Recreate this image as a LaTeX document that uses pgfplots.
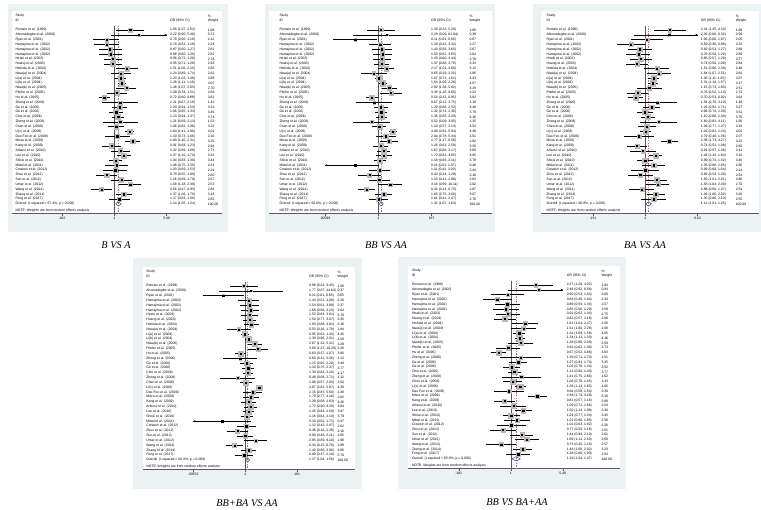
\documentclass[border=0pt]{standalone}
\usepackage{fontspec}
\setmainfont{Liberation Sans}
\newfontfamily\ttl{Liberation Serif}
\usepackage{pgfplots}
\pgfplotsset{compat=1.18}
\usepackage{pgfplotstable}
\usetikzlibrary{arrows.meta}

\definecolor{bgc}{RGB}{234,242,243}
\definecolor{boxc}{RGB}{185,185,185}
\definecolor{diac}{RGB}{40,70,150}
\definecolor{olc}{RGB}{200,110,110}
\definecolor{axc}{RGB}{90,90,90}
\newcommand\sfnt{\fontsize{3.4}{4}\selectfont}
\newcommand\tfnt{\ttl\itshape\fontsize{10.3}{12}\selectfont}
\pgfkeys{/pgf/number format/.cd, fixed, zerofill, precision=2, assume math mode=true}

\pgfplotstableread[col sep=semicolon, row sep=\\]{
k;name\\
1;Romain et al. (1999)\\
2;Ahomadegbe et al. (2000)\\
3;Ryan et al. (2001)\\
4;Hamajima et al. (2002)\\
5;Hamajima et al. (2002)\\
6;Hamajima et al. (2002)\\
7;Hiraki et al. (2003)\\
8;Huang et al. (2003)\\
9;Hishida et al. (2004)\\
10;Niwa(a) et al. (2004)\\
11;Li(a) et al. (2004)\\
12;Li(b) et al. (2004)\\
13;Niwa(b) et al. (2005)\\
14;Pfeifer et al. (2005)\\
15;Hu et al. (2005)\\
16;Zheng et al. (2006)\\
17;Ge et al. (2006)\\
18;Ge et al. (2006)\\
19;Choi et al. (2006)\\
20;Zheng et al. (2008)\\
21;Chen et al. (2008)\\
22;Li(c) et al. (2008)\\
23;Dao Feo et al. (2009)\\
24;Misra et al. (2009)\\
25;Kang et al. (2009)\\
26;Arfaoui et al. (2010)\\
27;Lee et al. (2010)\\
28;Shirai et al. (2010)\\
29;Mittal et al. (2011)\\
30;Crewein et al. (2012)\\
31;Zhou et al. (2012)\\
32;Sun et al. (2012)\\
33;Umar et al. (2012)\\
34;Wang et al. (2014)\\
35;Zhang et al. (2014)\\
36;Feng et al. (2017)\\
}\names

% B vs A
\pgfplotstableread[row sep=\\]{
est lcl ucl wt\\
1.68 1.07 2.62 1.98\\
2.22 0.90 5.48 0.72\\
0.78 0.50 1.18 2.11\\
0.78 0.52 1.18 2.24\\
0.87 0.60 1.27 2.61\\
0.88 0.60 1.30 2.62\\
0.96 0.72 1.28 2.78\\
0.95 0.71 1.28 2.93\\
1.51 1.06 2.15 2.66\\
1.24 0.89 1.74 2.62\\
1.23 1.03 1.48 3.98\\
1.28 1.11 1.48 4.07\\
1.48 1.07 2.05 2.70\\
1.09 0.78 1.51 2.68\\
0.72 0.60 0.88 3.61\\
1.21 0.67 2.18 1.42\\
1.20 0.94 1.52 3.33\\
1.06 0.85 1.33 3.46\\
1.13 0.94 1.37 3.74\\
1.21 0.69 2.13 1.52\\
1.06 0.82 1.36 3.22\\
1.64 1.41 1.90 4.01\\
1.10 0.73 1.66 2.16\\
1.80 1.40 2.31 3.25\\
0.91 0.68 1.23 2.94\\
1.22 0.89 1.68 2.73\\
1.37 1.10 1.70 3.32\\
1.04 0.83 1.30 3.44\\
1.08 0.75 1.55 2.41\\
1.03 0.69 1.53 2.24\\
0.78 0.55 1.09 2.60\\
1.26 0.89 1.79 2.67\\
1.68 1.18 2.39 2.53\\
0.66 0.47 0.93 2.84\\
1.37 1.06 1.78 3.18\\
1.17 0.83 1.66 2.65\\
}\tA

% BB vs AA
\pgfplotstableread[row sep=\\]{
est lcl ucl wt\\
1.30 0.33 5.20 1.66\\
2.29 0.09 61.04 0.38\\
0.11 0.013 0.90 0.67\\
1.19 0.42 3.42 2.27\\
1.43 0.56 3.65 2.67\\
1.50 0.61 3.65 2.64\\
1.43 0.60 3.44 2.78\\
1.37 0.68 2.76 3.33\\
2.17 1.01 4.66 3.12\\
0.65 0.19 2.25 1.86\\
1.07 0.71 1.61 4.43\\
1.54 1.05 2.26 4.57\\
2.82 1.36 5.82 3.29\\
3.38 1.18 9.65 2.23\\
0.54 0.31 0.95 3.93\\
0.67 0.12 3.75 1.18\\
1.29 0.66 2.52 3.48\\
1.32 0.74 2.36 3.79\\
1.35 0.83 2.20 4.16\\
0.52 0.09 3.05 1.15\\
1.10 0.57 2.13 3.54\\
4.08 2.81 5.94 4.38\\
2.04 0.78 5.34 2.51\\
2.77 1.17 6.56 2.82\\
1.26 0.61 2.58 3.26\\
1.67 0.88 3.17 3.68\\
1.72 0.81 3.65 3.05\\
1.18 0.66 2.11 3.78\\
0.11 0.0059 1.07 0.48\\
1.11 0.41 3.00 2.44\\
0.43 0.14 1.28 2.18\\
1.10 0.41 2.98 2.62\\
3.16 0.99 10.11 2.02\\
0.32 0.14 0.75 2.87\\
1.65 0.75 3.66 3.07\\
1.01 0.41 2.47 2.76\\
}\tB

% BA vs AA
\pgfplotstableread[row sep=\\]{
est lcl ucl wt\\
2.41 1.35 4.33 1.89\\
2.36 0.66 8.32 0.90\\
1.06 0.60 1.87 2.05\\
0.59 0.36 0.98 2.22\\
0.82 0.53 1.27 2.89\\
0.78 0.50 1.20 2.89\\
0.85 0.57 1.28 2.77\\
0.74 0.50 1.09 2.84\\
1.51 0.96 2.38 2.48\\
1.64 1.07 2.51 2.64\\
1.36 1.11 1.65 4.07\\
1.31 1.10 1.57 4.17\\
1.15 0.73 1.80 2.51\\
0.76 0.52 1.10 2.72\\
0.70 0.53 0.92 3.64\\
1.54 0.76 3.10 1.49\\
1.26 0.92 1.71 3.27\\
0.98 0.74 1.30 3.51\\
1.10 0.86 1.40 3.75\\
1.60 0.82 3.11 1.60\\
1.06 0.77 1.47 3.24\\
1.01 0.82 1.24 4.02\\
0.79 0.46 1.36 2.07\\
2.38 1.73 3.27 3.22\\
0.74 0.51 1.08 2.60\\
0.91 0.57 1.46 2.41\\
1.46 1.15 1.84 3.32\\
0.99 0.74 1.32 3.40\\
1.35 0.88 2.05 2.66\\
0.99 0.60 1.64 2.24\\
0.83 0.53 1.30 2.54\\
1.50 1.01 2.21 2.86\\
1.58 1.04 2.39 2.70\\
0.88 0.56 1.37 2.54\\
1.46 1.06 2.02 3.26\\
1.35 0.86 2.10 2.55\\
}\tC

% BB+BA vs AA
\pgfplotstableread[row sep=\\]{
est lcl ucl wt\\
0.88 0.22 3.45 1.58\\
1.77 0.07 44.64 0.37\\
0.11 0.014 0.85 0.65\\
1.44 0.51 4.08 2.26\\
1.54 0.61 3.88 2.37\\
1.68 0.68 4.15 2.64\\
1.52 0.64 3.61 2.79\\
1.54 0.77 3.07 3.35\\
1.83 0.88 3.82 3.18\\
0.53 0.16 1.78 1.84\\
0.95 0.63 1.43 4.45\\
1.39 0.96 2.01 4.58\\
2.67 1.32 5.41 3.29\\
3.60 1.27 10.20 2.20\\
0.63 0.37 1.07 3.86\\
0.60 0.11 3.36 1.12\\
1.15 0.60 2.20 3.48\\
1.33 0.75 2.37 3.77\\
1.30 0.81 2.10 4.17\\
0.48 0.08 2.71 1.12\\
1.08 0.57 2.04 3.54\\
4.07 2.82 5.87 4.39\\
2.15 0.83 5.60 2.48\\
1.79 0.77 4.16 2.82\\
1.39 0.68 2.83 3.26\\
1.72 0.90 3.30 3.64\\
1.45 0.84 2.50 3.97\\
1.16 0.64 2.10 3.79\\
0.10 0.0055 1.71 0.47\\
1.12 0.42 2.97 2.62\\
0.46 0.16 1.36 2.16\\
0.99 0.46 2.11 2.65\\
2.85 0.89 9.10 1.98\\
0.34 0.15 0.78 2.88\\
1.42 0.66 3.06 3.06\\
0.90 0.37 2.18 2.70\\
}\tD

% BB vs BA+AA
\pgfplotstableread[row sep=\\]{
est lcl ucl wt\\
2.27 1.29 4.02 1.84\\
2.48 0.92 6.58 0.84\\
0.90 0.53 1.53 2.00\\
0.64 0.40 1.04 2.34\\
0.89 0.59 1.34 2.57\\
0.85 0.56 1.29 2.59\\
0.91 0.62 1.34 2.75\\
0.82 0.57 1.18 2.88\\
1.61 1.04 2.47 2.50\\
1.51 1.00 2.28 2.58\\
1.31 1.09 1.58 4.05\\
1.34 1.13 1.59 4.16\\
1.38 0.90 2.09 2.59\\
0.92 0.62 1.36 2.73\\
0.67 0.52 0.86 3.63\\
1.39 0.71 2.70 1.51\\
1.27 0.94 1.70 3.35\\
1.02 0.78 1.34 3.52\\
1.12 0.90 1.40 3.77\\
1.41 0.75 2.66 1.62\\
1.06 0.78 1.45 3.33\\
1.36 1.13 1.65 4.05\\
0.94 0.58 1.54 2.30\\
2.38 1.73 3.28 3.18\\
0.81 0.57 1.16 2.89\\
1.09 0.71 1.66 2.50\\
1.50 1.14 1.98 3.30\\
1.01 0.77 1.34 3.45\\
1.22 0.80 1.85 2.58\\
1.01 0.63 1.62 2.26\\
0.77 0.50 1.18 2.51\\
1.44 0.99 2.10 2.61\\
1.69 1.14 2.50 2.69\\
0.73 0.45 1.18 2.57\\
1.48 1.08 2.02 3.23\\
1.28 0.86 1.90 2.54\\
}\tE

\tikzset{txt/.style={anchor=west, font=\sfnt, inner sep=0pt, text=black}}

% #1 table, #2 OR shift, #3 weight shift, #4 clip lo, #5 clip hi,
% #6 overall OR, #7 overall lo, #8 overall hi, #9 I-squared
\newcommand\fbody[9]{%
  \addplot[scatter, only marks, mark=square*, color=boxc,
    mark options={draw=boxc, fill=boxc},
    scatter/use mapped color={draw=boxc, fill=boxc},
    visualization depends on={1.3*sqrt(\thisrow{wt})\as\sw},
    scatter/@pre marker code/.append style={/tikz/mark size=\sw}]
    table[x=est, y expr=\coordindex+1] {#1};
  \addplot[axc, line width=0.6pt] coordinates {(1,0.1) (1,38.95)};
  \addplot[olc, line width=0.4pt, dash pattern=on 1.3pt off 1.3pt]
    coordinates {(#6,0.1) (#6,38.95)};
  \addplot[only marks, mark=square*, mark size=0.65pt, black,
    error bars/.cd, x dir=both, x explicit, error mark=none,
    error bar style={black, line width=0.35pt, solid}]
    table[x=est, y expr=\coordindex+1,
      x error plus expr={min(\thisrow{ucl},#5)-\thisrow{est}},
      x error minus expr={\thisrow{est}-max(\thisrow{lcl},#4)}] {#1};
  \addplot[diac, line width=0.5pt]
    coordinates {(#7,37) (#6,36.55) (#8,37) (#6,37.45) (#7,37)};
  \addplot[only marks, mark=*, mark size=0pt, mark options={draw=none,fill=none},
    point meta=explicit symbolic, nodes near coords,
    nodes near coords style={txt, xshift=-99pt}]
    table[x expr=1, y=k, meta=name] {\names};
  \addplot[only marks, mark=*, mark size=0pt, mark options={draw=none,fill=none},
    visualization depends on={\thisrow{est}\as\vor},
    visualization depends on={\thisrow{lcl}\as\vlo},
    visualization depends on={\thisrow{ucl}\as\vhi},
    nodes near coords={\pgfmathprintnumber{\vor} (\pgfmathprintnumber{\vlo}, \pgfmathprintnumber{\vhi})},
    nodes near coords style={txt, xshift=#2pt}]
    table[x expr=1, y expr=\coordindex+1] {#1};
  \addplot[only marks, mark=*, mark size=0pt, mark options={draw=none,fill=none},
    point meta=explicit, nodes near coords,
    nodes near coords style={txt, xshift=#3pt}]
    table[x expr=1, y expr=\coordindex+1, meta=wt] {#1};
  \node[txt, xshift=-99pt] at (axis cs:1,-1.9) {Study};
  \node[txt, xshift=-99pt] at (axis cs:1,-0.92) {ID};
  \node[txt, xshift=#2pt] at (axis cs:1,-0.92) {OR (95\% CI)};
  \node[txt, xshift=#3pt] at (axis cs:1,-1.9) {\%};
  \node[txt, xshift=#3pt] at (axis cs:1,-0.92) {Weight};
  \node[txt, xshift=-99pt] at (axis cs:1,37) {Overall \ (I-squared = #9\%, p = 0.000)};
  \node[txt, xshift=#2pt] at (axis cs:1,37) {#6 (#7, #8)};
  \node[txt, xshift=#3pt] at (axis cs:1,37) {100.00};
  \node[txt, xshift=-99pt] at (axis cs:1,38.45) {NOTE: Weights are from random effects analysis};
}

\begin{document}
\begin{tikzpicture}
\path[use as bounding box] (0,0) rectangle (761pt,-510pt);
\fill[bgc] (8pt,-4pt) rectangle (228pt,-232pt);
\fill[bgc] (265pt,-4pt) rectangle (495pt,-232pt);
\fill[bgc] (533pt,-4pt) rectangle (761pt,-232pt);
\fill[bgc] (133pt,-258pt) rectangle (362pt,-489pt);
\fill[bgc] (398pt,-257pt) rectangle (626pt,-489pt);

% B VS A
\begin{axis}[scale only axis, xmode=log, y dir=reverse,
    ymin=-2.93, ymax=38.95, anchor=north west,
    axis x line*=bottom, axis y line=none,
    axis line style={line width=0.5pt, axc},
    tick align=outside, major tick length=2.6pt, xminorticks=false,
    xtick style={axc, line width=0.4pt},
    xticklabel style={font=\sfnt, inner sep=1.2pt, text=black},
    clip=false, axis background/.style={fill=white},
  at={(12pt,-11pt)}, width=210pt, height=202.3pt,
  xmin=0.03606, xmax=33.04, xtick={0.182,1,5.48}, xticklabels={.182,1,5.48}]
  \fbody{\tA}{55.7}{93.4}{0.182}{5.48}{1.14}{1.05}{1.24}{67.3}
  \addplot[black, line width=0.35pt, -{Stealth[length=2.2pt,width=2pt]}] coordinates {(2.22,2) (5.48,2)};
\end{axis}

% BB VS AA
\begin{axis}[scale only axis, xmode=log, y dir=reverse,
    ymin=-2.93, ymax=38.95, anchor=north west,
    axis x line*=bottom, axis y line=none,
    axis line style={line width=0.5pt, axc},
    tick align=outside, major tick length=2.6pt, xminorticks=false,
    xtick style={axc, line width=0.4pt},
    xticklabel style={font=\sfnt, inner sep=1.2pt, text=black},
    clip=false, axis background/.style={fill=white},
  at={(269pt,-11pt)}, width=223pt, height=202.3pt,
  xmin=2.767e-5, xmax=55080, xtick={0.00599,1,167}, xticklabels={.00599,1,167}]
  \fbody{\tB}{52.7}{91}{0.00599}{167}{1.32}{1.07}{1.63}{60.6}
  \addplot[black, line width=0.35pt, -{Stealth[length=2.2pt,width=2pt]}] coordinates {(0.11,29) (0.00599,29)};
\end{axis}

% BA VS AA
\begin{axis}[scale only axis, xmode=log, y dir=reverse,
    ymin=-2.93, ymax=38.95, anchor=north west,
    axis x line*=bottom, axis y line=none,
    axis line style={line width=0.5pt, axc},
    tick align=outside, major tick length=2.6pt, xminorticks=false,
    xtick style={axc, line width=0.4pt},
    xticklabel style={font=\sfnt, inner sep=1.2pt, text=black},
    clip=false, axis background/.style={fill=white},
  at={(541pt,-11pt)}, width=218pt, height=202.3pt,
  xmin=0.02296, xmax=60.95, xtick={0.151,1,6.62}, xticklabels={.151,1,6.62}]
  \fbody{\tC}{55.4}{90.2}{0.151}{6.62}{1.12}{1.01}{1.25}{66.8}
  \addplot[black, line width=0.35pt, -{Stealth[length=2.2pt,width=2pt]}] coordinates {(2.36,2) (6.62,2)};
\end{axis}

% BB+BA VS AA
\begin{axis}[scale only axis, xmode=log, y dir=reverse,
    ymin=-2.93, ymax=38.95, anchor=north west,
    axis x line*=bottom, axis y line=none,
    axis line style={line width=0.5pt, axc},
    tick align=outside, major tick length=2.6pt, xminorticks=false,
    xtick style={axc, line width=0.4pt},
    xticklabel style={font=\sfnt, inner sep=1.2pt, text=black},
    clip=false, axis background/.style={fill=white},
  at={(143pt,-267pt)}, width=212pt, height=202.3pt,
  xmin=3.648e-5, xmax=58610, xtick={0.00552,1,181}, xticklabels={.00552,1,181}]
  \fbody{\tD}{63.8}{92.1}{0.00552}{181}{1.27}{1.04}{1.56}{60.4}
  \addplot[black, line width=0.35pt, -{Stealth[length=2.2pt,width=2pt]}] coordinates {(0.10,29) (0.00552,29)};
\end{axis}

% BB VS BA+AA
\begin{axis}[scale only axis, xmode=log, y dir=reverse,
    ymin=-2.93, ymax=38.95, anchor=north west,
    axis x line*=bottom, axis y line=none,
    axis line style={line width=0.5pt, axc},
    tick align=outside, major tick length=2.6pt, xminorticks=false,
    xtick style={axc, line width=0.4pt},
    xticklabel style={font=\sfnt, inner sep=1.2pt, text=black},
    clip=false, axis background/.style={fill=white},
  at={(408pt,-266pt)}, width=212pt, height=202.3pt,
  xmin=0.03451, xmax=35.73, xtick={0.182,1,5.49}, xticklabels={.182,1,5.49}]
  \fbody{\tE}{55.9}{90.5}{0.182}{5.49}{1.19}{1.04}{1.37}{65.0}
  \addplot[black, line width=0.35pt, -{Stealth[length=2.2pt,width=2pt]}] coordinates {(2.48,2) (5.49,2)};
\end{axis}

\node[font=\tfnt] at (116pt,-245pt) {B VS A};
\node[font=\tfnt] at (386pt,-245pt) {BB VS AA};
\node[font=\tfnt] at (645pt,-245pt) {BA VS AA};
\node[font=\tfnt] at (247pt,-503pt) {BB+BA VS AA};
\node[font=\tfnt] at (517pt,-502pt) {BB VS BA+AA};
\end{tikzpicture}
\end{document}
